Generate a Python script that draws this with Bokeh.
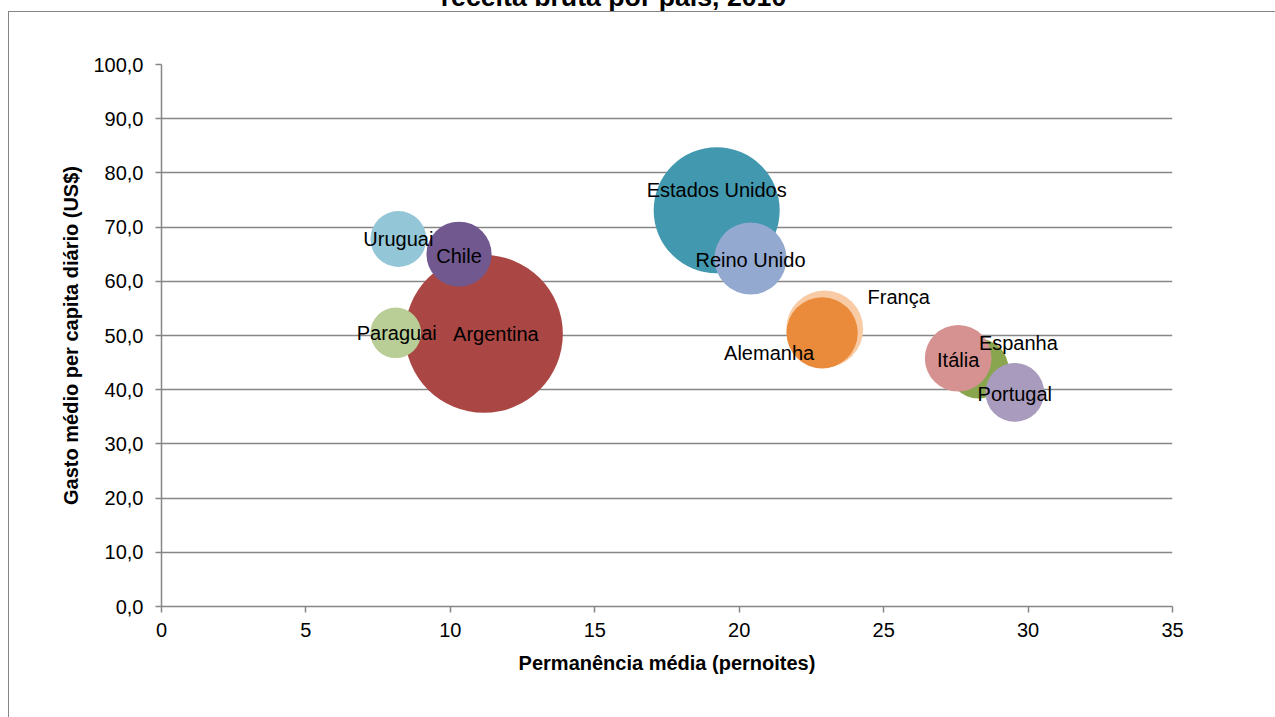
from bokeh.plotting import figure
from bokeh.models import Range1d, ColumnDataSource, Label, FixedTicker
from bokeh.core.properties import value
from bokeh.embed import file_html
from bokeh.resources import INLINE

# ---- data ----
paises = ["Argentina", "Estados Unidos", "França", "Espanha", "Uruguai", "Chile",
          "Paraguai", "Reino Unido", "Alemanha", "Itália", "Portugal"]
permanencia = [11.16, 19.22, 22.96, 28.28, 8.20, 10.30, 8.11, 20.39, 22.87, 27.58, 29.54]
gasto = [50.3, 73.1, 51.2, 43.9, 67.8, 65.0, 50.5, 64.2, 50.5, 45.8, 39.5]
receita = [624, 397, 148, 90, 78, 106, 64, 130, 127, 111, 86]

x_ticks = [0, 5, 10, 15, 20, 25, 30, 35]
y_ticks = [0, 10, 20, 30, 40, 50, 60, 70, 80, 90, 100]
y_tick_labels = ["0,0", "10,0", "20,0", "30,0", "40,0", "50,0", "60,0", "70,0", "80,0", "90,0", "100,0"]

titulo = "receita bruta por país, 2010"
x_titulo = "Permanência média (pernoites)"
y_titulo = "Gasto médio per capita diário (US$)"

# ---- styles ----
cores = ["#AA4643", "#4198AF", "#F8CBA5", "#89A54E", "#93C6D7", "#71588F",
         "#B9CD96", "#93A9D0", "#E98B3A", "#D69290", "#A99BBD"]
label_dx = [12, 0, 74, 40, 0, 0, 1, 0, -53, 0, 0]
label_dy = [0, -20, -32, -26, 0, 2, 0, 1, 20, 2, 2]
escala_raio = 79 / (624 ** 0.5)
raios = [escala_raio * (v ** 0.5) for v in receita]

FONT = "Liberation Sans"
GRAY = "#868686"
FS = "20px"

src = ColumnDataSource(dict(x=permanencia, y=gasto, r=raios, c=cores, t=paises,
                            dx=label_dx, dy=label_dy))

W, H = 1275, 717
FL, FR, FT, FB = 161, 1172, 64, 606   # plot-area edges on the page
p = figure(width=W, height=H, output_backend="svg", toolbar_location=None,
           x_range=Range1d(0, 35), y_range=Range1d(0, 100),
           min_border_left=FL, min_border_right=W - FR,
           min_border_top=FT, min_border_bottom=H - FB,
           background_fill_color="white", border_fill_color="white")
# outer chart-area border (left and top edges; right/bottom lie outside the window)
p.stylesheets = [
    ":host { position: relative; }"
    ":host::after { content: ''; position: absolute; left: 8px; top: 11px; right: 0; bottom: 0;"
    " border-left: 1px solid #868686; border-top: 1px solid #868686; pointer-events: none; }"
]
p.outline_line_color = None
p.xgrid.grid_line_color = None
p.ygrid.grid_line_color = GRAY
p.ygrid.grid_line_width = 1.5
p.ygrid.ticker = FixedTicker(ticks=y_ticks)

p.circle(x="x", y="y", radius="r", radius_units="screen", fill_color="c",
         line_color=None, source=src)
p.text(x="x", y="y", text="t", x_offset="dx", y_offset="dy", source=src,
       text_align="center", text_baseline="middle", text_font=value(FONT),
       text_font_size=FS, text_color="black")

for ax in (p.xaxis, p.yaxis):
    ax.axis_line_color = GRAY
    ax.axis_line_width = 1.5
    ax.major_tick_line_color = GRAY
    ax.major_tick_line_width = 1.5
    ax.major_tick_out = 6
    ax.major_tick_in = 0
    ax.minor_tick_line_color = None
    ax.major_label_text_font = FONT
    ax.major_label_text_font_size = FS
    ax.major_label_text_color = "black"
    ax.axis_label_text_font = FONT
    ax.axis_label_text_font_size = FS
    ax.axis_label_text_font_style = "bold"
    ax.axis_label_text_color = "black"

p.xaxis.ticker = FixedTicker(ticks=x_ticks)
p.xaxis.axis_label = x_titulo
p.xaxis.major_label_standoff = 10
p.xaxis.axis_label_standoff = 12

p.yaxis.ticker = FixedTicker(ticks=y_ticks)
p.yaxis.major_label_overrides = {v: s for v, s in zip(y_ticks, y_tick_labels)}
p.yaxis.axis_label = y_titulo
p.yaxis.major_label_standoff = 12
p.yaxis.axis_label_standoff = 8

# title (its upper part lies above the window, as in the reference)
p.add_layout(Label(x=613 - FL, y=FT + 4, x_units="screen", y_units="screen",
                   text=titulo, text_align="center", text_baseline="alphabetic",
                   text_font=FONT, text_font_size="26.7px",
                   text_font_style="bold", text_color="black"), "above")

open("out.html", "w").write(file_html(p, INLINE))
